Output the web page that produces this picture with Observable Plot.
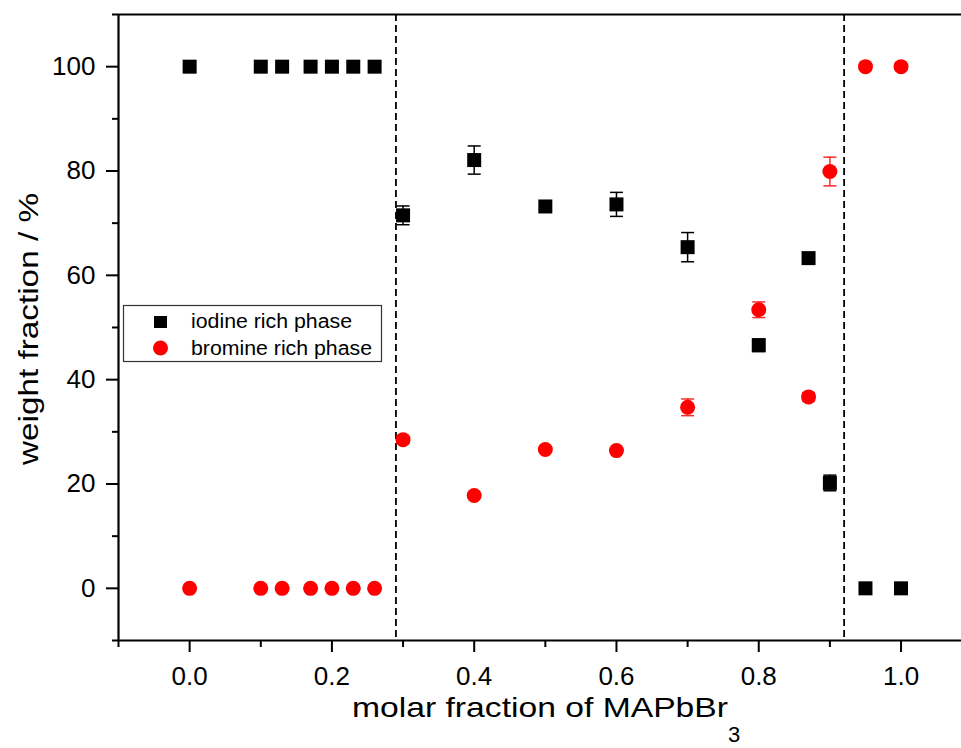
<!DOCTYPE html>
<html><head><meta charset="utf-8">
<script src="https://cdn.jsdelivr.net/npm/d3@7"></script>
<script src="https://cdn.jsdelivr.net/npm/@observablehq/plot@0.6"></script>
<style>body{margin:0;background:#fff} #chart{width:961px;height:748px}</style>
</head><body><div id="chart"></div>
<script>
// ---- data ----
const molarFraction = [0, 0.1, 0.13, 0.17, 0.2, 0.23, 0.26, 0.3, 0.4, 0.5, 0.6, 0.7, 0.8, 0.87, 0.9, 0.95, 1.0];
const iodineWeight  = [100, 100, 100, 100, 100, 100, 100, 71.5, 82.1, 73.2, 73.6, 65.4, 46.6, 63.3, 20.2, 0, 0];
const iodineError   = [0, 0, 0, 0, 0, 0, 0, 1.8, 2.7, 0.6, 2.3, 2.8, 1.2, 0.6, 1.5, 0, 0];
const bromineWeight = [0, 0, 0, 0, 0, 0, 0, 28.5, 17.8, 26.6, 26.4, 34.7, 53.4, 36.7, 79.9, 100, 100];
const bromineError  = [0, 0, 0, 0, 0, 0, 0, 0.6, 0.5, 0.5, 0.5, 1.6, 1.5, 0.8, 2.75, 0, 0.5];
const phaseBoundaries = [0.29, 0.92];
const xMajorTicks = [0, 0.2, 0.4, 0.6, 0.8, 1.0];
const xMinorTicks = [-0.1, 0.1, 0.3, 0.5, 0.7, 0.9];
const yMajorTicks = [0, 20, 40, 60, 80, 100];
const yMinorTicks = [-10, 10, 30, 50, 70, 90, 110];
const seriesNames = ["iodine rich phase", "bromine rich phase"];
const seriesColors = ["#000000", "#ff0000"];
const xTitle = "molar fraction of MAPbBr";
const xTitleSub = "3";
const yTitle = "weight fraction / %";

// ---- tables built from the arrays ----
const iodine = molarFraction.map((x, i) => ({x, y: iodineWeight[i], e: iodineError[i]}));
const bromine = molarFraction.map((x, i) => ({x, y: bromineWeight[i], e: bromineError[i]}));
const capSymbol = {draw(ctx) { ctx.moveTo(-6.5, 0); ctx.lineTo(6.5, 0); }};

function errorMarks(data, color) {
  const d = data.filter(r => r.e > 0);
  return [
    Plot.ruleX(d, {x: "x", y1: r => r.y - r.e, y2: r => r.y + r.e, stroke: color, strokeWidth: 1.5}),
    Plot.dot(d, {x: "x", y: r => r.y + r.e, symbol: capSymbol, r: 5, stroke: color, fill: "none", strokeWidth: 1.5}),
    Plot.dot(d, {x: "x", y: r => r.y - r.e, symbol: capSymbol, r: 5, stroke: color, fill: "none", strokeWidth: 1.5})
  ];
}

const plot = Plot.plot({
  width: 961,
  height: 748,
  marginLeft: 118,
  marginRight: 0,
  marginTop: 14,
  marginBottom: 108,
  style: {fontFamily: "'Liberation Sans', Arial, sans-serif", fontSize: "26px", background: "#fff", color: "#000"},
  x: {domain: [-0.1, 1.085]},
  y: {domain: [-10, 110]},
  marks: [
    Plot.ruleX(phaseBoundaries, {stroke: "#000", strokeWidth: 1.8, strokeDasharray: "7,4"}),
    ...errorMarks(iodine, seriesColors[0]),
    ...errorMarks(bromine, "#ff2a2a"),
    Plot.dot(iodine, {x: "x", y: "y", symbol: "square", r: 7.9, fill: seriesColors[0], stroke: "none"}),
    Plot.dot(bromine, {x: "x", y: "y", symbol: "circle", r: 7.5, fill: seriesColors[1], stroke: "none"}),
    Plot.axisY(yMajorTicks, {tickSize: 12, tickPadding: 11, strokeWidth: 2, label: null}),
    Plot.axisY(yMinorTicks, {tickSize: 6, strokeWidth: 2, tickFormat: () => "", label: null}),
    Plot.axisX(xMajorTicks, {tickSize: 12, tickPadding: 14, strokeWidth: 2, tickFormat: d3.format(".1f"), label: null}),
    Plot.axisX(xMinorTicks, {tickSize: 7, strokeWidth: 2, tickFormat: () => "", label: null}),
    Plot.ruleY([-10, 110], {stroke: "#000", strokeWidth: 2.2}),
    Plot.ruleX([-0.1], {stroke: "#000", strokeWidth: 2.2})
  ]
});
document.getElementById("chart").appendChild(plot);

// ---- titles and legend ----
const svg = d3.select(plot);
svg.selectAll("g[aria-label$='tick label'], g[aria-label$='tick label'] text").attr("font-size", 26).style("font-size", "26px");
const font = "'Liberation Sans', Arial, sans-serif";
const xt = svg.append("text").attr("x", 352).attr("y", 717).attr("text-anchor", "start")
  .attr("font-family", font).attr("font-size", 28).attr("fill", "#000");
xt.append("tspan").attr("textLength", 376).attr("lengthAdjust", "spacingAndGlyphs").text(xTitle);
xt.append("tspan").attr("font-size", 22).attr("dy", 25).text(xTitleSub);

svg.append("text").attr("transform", "translate(38,329) rotate(-90)")
  .attr("text-anchor", "middle").attr("font-family", font).attr("font-size", 28).attr("fill", "#000")
  .attr("textLength", 272).attr("lengthAdjust", "spacingAndGlyphs").text(yTitle);

const lg = svg.append("g");
lg.append("rect").attr("x", 123.5).attr("y", 305.5).attr("width", 258).attr("height", 56)
  .attr("fill", "#fff").attr("stroke", "#333").attr("stroke-width", 1.2);
lg.append("rect").attr("x", 154).attr("y", 316).attr("width", 13).attr("height", 12).attr("fill", seriesColors[0]);
lg.append("circle").attr("cx", 160.5).attr("cy", 348).attr("r", 7.5).attr("fill", seriesColors[1]);
seriesNames.forEach((n, i) => {
  lg.append("text").attr("x", 191).attr("y", 328 + i * 27).attr("text-anchor", "start")
    .attr("font-family", font).attr("font-size", 20).attr("fill", "#000")
    .attr("textLength", i === 0 ? 161 : 181).attr("lengthAdjust", "spacingAndGlyphs").text(n);
});
</script>
</body></html>
